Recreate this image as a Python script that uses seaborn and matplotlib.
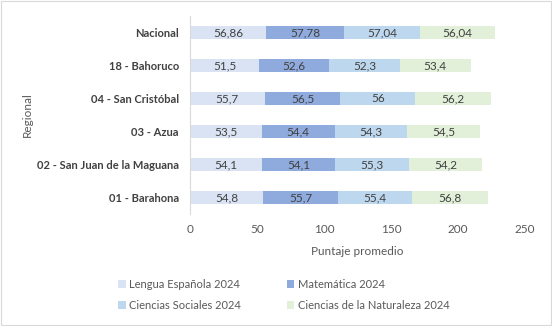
import matplotlib
matplotlib.use("Agg")
import matplotlib.pyplot as plt
import matplotlib.colors as mcolors
import seaborn as sns
import pandas as pd
from matplotlib.patches import Rectangle

regions = ["01 - Barahona", "02 - San Juan de la Maguana", "03 - Azua",
           "04 - San Cristóbal", "18 - Bahoruco", "Nacional"]
subjects = ["Lengua Española 2024", "Matemática 2024",
            "Ciencias Sociales 2024", "Ciencias de la Naturaleza 2024"]
lengua = [54.8, 54.1, 53.5, 55.7, 51.5, 56.86]
matematica = [55.7, 54.1, 54.4, 56.5, 52.6, 57.78]
sociales = [55.4, 55.3, 54.3, 56.0, 52.3, 57.04]
naturaleza = [56.8, 54.2, 54.5, 56.2, 53.4, 56.04]
label_text = {
    subjects[0]: ["54,8", "54,1", "53,5", "55,7", "51,5", "56,86"],
    subjects[1]: ["55,7", "54,1", "54,4", "56,5", "52,6", "57,78"],
    subjects[2]: ["55,4", "55,3", "54,3", "56", "52,3", "57,04"],
    subjects[3]: ["56,8", "54,2", "54,5", "56,2", "53,4", "56,04"],
}
colors = ["#DAE3F3", "#8FAADC", "#BDD7EE", "#E2F0D9"]
xticks = [0, 50, 100, 150, 200, 250]

rows = []
for s, vals in zip(subjects, [lengua, matematica, sociales, naturaleza]):
    for r, v in zip(regions, vals):
        rows.append({"Regional": r, "Asignatura": s, "Puntaje": v})
df = pd.DataFrame(rows)

sns.set_theme(style="white")
plt.rcParams["font.family"] = ["Lato", "DejaVu Sans"]
txt = "#595959"

fig = plt.figure(figsize=(5.52, 3.26), dpi=100)
ax = fig.add_axes([190/552, 1 - 214/326, 335/552, 198/326])

pal = dict(zip(subjects, colors))
sns.histplot(data=df, y="Regional", hue="Asignatura", weights="Puntaje",
             multiple="stack", discrete=True, shrink=0.4, palette=pal,
             hue_order=subjects[::-1], alpha=1, linewidth=0, legend=False, ax=ax)

for cont in ax.containers:
    fc = mcolors.to_hex(cont.patches[0].get_facecolor())
    for s, c in pal.items():
        if mcolors.to_hex(c) == fc:
            ax.bar_label(cont, labels=label_text[s], label_type="center",
                         fontsize=8.5, color="#404040")

ax.set_xlim(0, 250)
ax.set_ylim(-0.5, 5.5)
ax.set_xticks(xticks)
ax.set_xticklabels([str(t) for t in xticks], fontsize=8.5, color=txt)
ax.tick_params(axis="y", labelsize=8, colors="#404040", length=0, pad=8)
ax.tick_params(axis="x", length=0, pad=7)
for lbl in ax.get_yticklabels():
    lbl.set_fontweight("bold")
ax.set_xlabel("Puntaje promedio", fontsize=8.5, color=txt, labelpad=8)
ax.set_ylabel("Regional", fontsize=8.5, color=txt, labelpad=0)
ax.yaxis.set_label_coords(-0.47, 0.5)
for sp in ["top", "right", "bottom"]:
    ax.spines[sp].set_visible(False)
ax.spines["left"].set_color("#D9D9D9")
ax.spines["left"].set_linewidth(0.8)

order = [0, 2, 1, 3]
handles = [Rectangle((0, 0), 1, 1, facecolor=colors[i], edgecolor="none") for i in order]
fig.legend(handles, [subjects[i] for i in order], loc="upper left",
           bbox_to_anchor=(108/552, 1 - 269/326),
           ncol=2, frameon=False, fontsize=8, labelcolor=txt,
           handlelength=0.7, handleheight=0.7, handletextpad=0.3,
           columnspacing=4.1, labelspacing=0.9)

fig.patches.append(Rectangle((0.001, 0.002), 0.997, 0.995, transform=fig.transFigure,
                             fill=False, edgecolor="#D9D9D9", linewidth=0.8))
fig.savefig("out.png", dpi=100)
